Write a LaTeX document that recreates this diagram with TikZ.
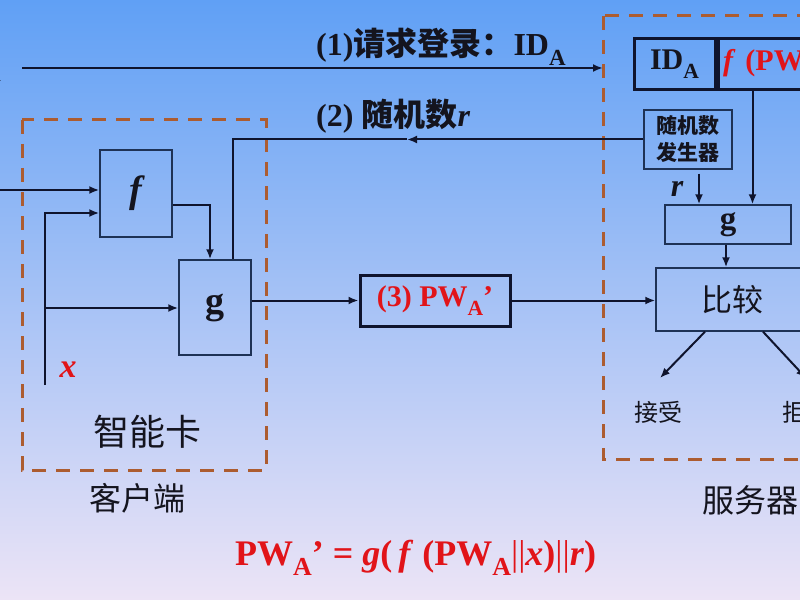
\documentclass[tikz,border=0pt]{standalone}
\usepackage{fontspec}
\setmainfont{Liberation Serif}
\newfontfamily\cjk{Noto Sans CJK SC}
\usepackage{xcolor}
\usepackage{graphicx}
\usetikzlibrary{arrows.meta,positioning}
\definecolor{bgtop}{RGB}{96,160,245}
\definecolor{bgmid}{RGB}{165,200,242}
\definecolor{bgbot}{RGB}{236,228,246}
\definecolor{dashc}{RGB}{172,92,48}
\definecolor{linec}{RGB}{15,20,45}
\definecolor{boxc}{RGB}{30,50,85}
\definecolor{pwred}{RGB}{225,20,25}
\definecolor{txtc}{RGB}{20,20,30}
\newcommand\sbA{\raisebox{-0.3em}{\scalebox{0.72}{A}}}

\begin{document}
\begin{tikzpicture}[x=1bp,y=-1bp,>={Latex[length=10bp,width=8bp]},
	line/.style={draw=linec,line width=2bp},
	blk/.style={draw=boxc,line width=1.4bp,inner sep=0pt,text=txtc},
	thickblk/.style={draw=linec,line width=3bp,inner sep=0pt,text=txtc},
	dashbox/.style={draw=dashc,line width=3bp,dash pattern=on 14bp off 10bp},
	big/.style={font=\fontsize{32bp}{38bp}\selectfont\bfseries,text=txtc},
	cn/.style={font=\cjk\fontsize{#1bp}{#1bp}\selectfont,text=txtc},
	sym/.style={font=\fontsize{#1bp}{#1bp}\selectfont\bfseries,text=txtc}]
	% background
	\useasboundingbox (0,0) rectangle (800,600);
	\clip (0,0) rectangle (800,600);
	\shade[top color=bgtop,middle color=bgmid,bottom color=bgbot] (0,0) rectangle (800,600);

	% client and server
	\draw[dashbox] (22,120) rectangle (266,470);
	\draw[dashbox] (603,16) rectangle (840,459);

	% blocks
	\node[blk,minimum width=72bp,minimum height=87bp,sym=38] (f) at (136,193.5) {\itshape f};
	\node[blk,minimum width=72bp,minimum height=95bp,sym=38] (g) at (215,307.5) {g};
	\node[thickblk,minimum width=150bp,minimum height=51bp,big,font=\fontsize{30bp}{36bp}\selectfont\bfseries,text=pwred] (pw) at (435,300.5) {(3) PW\sbA’};
	\node[thickblk,minimum width=81bp,minimum height=51bp,big,font=\fontsize{30bp}{36bp}\selectfont\bfseries] (id) at (674.5,64.5) {ID\sbA};
	\node[thickblk,anchor=west,minimum height=51bp,big,font=\fontsize{30bp}{36bp}\selectfont\bfseries,text=pwred,align=left,text width=160bp,inner xsep=5bp] (fpw) at (id.east) {\textit{f} (PW\sbA)};
	\node[blk,minimum width=88bp,minimum height=59bp,align=center,font=\cjk\bfseries\fontsize{21bp}{27bp}\selectfont] (rng) at (688,139.5) {随机数\\发生器};
	\node[blk,minimum width=126bp,minimum height=39bp,sym=33] (g2) at (728,224.5) {g};
	\node[blk,minimum width=152bp,minimum height=63bp,cn=31] (cmp) at (732,299.5) {比较};

	% labels
	\node[big,anchor=base west,inner sep=0pt] (req) at (316,56) {(1){\cjk 请求登录：}ID\sbA};
	\node[big,anchor=base west,inner sep=0pt] (rnd) at (316,127) {(2) {\cjk 随机数}\textit{r}};
	\node[big,anchor=base east,inner sep=0pt] (ida) at (1,72) {ID\sbA};
	\node[cn=36] (card) at (147,432) {智能卡};
	\node[cn=32] (cli) at (137,498) {客户端};
	\node[cn=32] (srv) at (750,500) {服务器};
	\node[cn=24] (acc) at (658,412) {接受};
	\node[cn=24] (rej) at (806,412) {拒绝};
	\node[sym=34,text=pwred,anchor=base] (x) at (68,377) {\itshape x};
	\node[sym=32,anchor=base] (r) at (677,197) {\itshape r};
	\node[sym=36,text=pwred,anchor=base west,inner sep=0pt] (eq) at (235,565) {PW\sbA’ = \textit{g}(\,\textit{f} (PW\sbA{\mdseries||}\textit{x}){\mdseries||}\textit{r})};

	% (1) login request
	\coordinate (req0) at (22,68);
	\coordinate (req1) at (603,68);
	\draw[line,->] (req0) -- (req1);

	% (2) random number back to the card
	\coordinate (rhead) at (407,139.5);
	\draw[line,->] (rng.west) -- (rhead);
	\draw[line] (rhead) -| ([xshift=18bp]g.north);

	% inside the card
	\coordinate (pin) at (0,190);
	\coordinate (xbot) at (45,385);
	\coordinate (xf) at (45,213);
	\coordinate (xg) at (45,308);
	\draw[line,->] (pin) -- (pin -| f.west);
	\draw[line,->] (xbot) -- (xf) -- (xf -| f.west);
	\draw[line,->] (xg) -- (xg -| g.west);
	\draw[line,->] ([yshift=-11.5bp]f.east) -| ([xshift=-5bp]g.north);

	% (3) answer to the server
	\draw[line,->] (g.east |- pw.west) -- (pw.west);
	\draw[line,->] (pw.east) -- (pw.east -| cmp.west);

	% server side
	\draw[line,->] ([xshift=36bp]fpw.south west) -- ([xshift=36bp]fpw.south west |- g2.north);
	\draw[line,->] ([xshift=11bp,yshift=-4bp]rng.south) -- ([xshift=11bp]rng.south |- g2.north);
	\draw[line,->] ([xshift=-2bp]g2.south) -- ([xshift=-2bp]g2.south |- cmp.north);
	\coordinate (acc0) at (660,378);
	\coordinate (rej0) at (806,378);
	\draw[line,->] ([xshift=-27bp]cmp.south) -- (acc0);
	\draw[line,->] ([xshift=31bp]cmp.south) -- (rej0);
\end{tikzpicture}
\end{document}
